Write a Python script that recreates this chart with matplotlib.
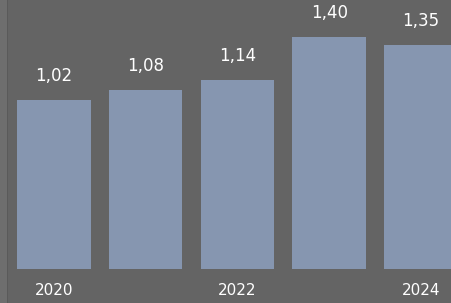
import matplotlib
matplotlib.use("Agg")
import matplotlib.pyplot as plt
from matplotlib.patches import Rectangle

# Data
years = [2020, 2021, 2022, 2023, 2024]
values = [1.02, 1.08, 1.14, 1.40, 1.35]
value_labels = ["1,02", "1,08", "1,14", "1,40", "1,35"]
tick_years = [2020, 2022, 2024]

bg = "#646464"
bar_color = "#8696b0"

fig = plt.figure(figsize=(4.51, 3.03), dpi=100, facecolor=bg)
ax = fig.add_axes([0, 0.1122, 1, 0.8878])
ax.set_facecolor(bg)

# left strip
fig.patches.append(Rectangle((0, 0), 7 / 451, 1, transform=fig.transFigure,
                             facecolor="#6e6e6e", edgecolor="none", zorder=0))
fig.patches.append(Rectangle((7 / 451, 0), 1 / 451, 1, transform=fig.transFigure,
                             facecolor="#5a5a5a", edgecolor="none", zorder=0))

x = list(range(len(years)))
bars = ax.bar(x, values, width=0.8, color=bar_color)

for xi, v, lab in zip(x, values, value_labels):
    ax.annotate(lab, (xi, v), xytext=(0, 11), textcoords="offset points",
                ha="center", va="bottom", color="white", fontsize=12)

ax.set_xlim(-0.589, 4.329)
ax.set_ylim(0, 1.623)
ax.set_xticks([years.index(y) for y in tick_years])
ax.set_xticklabels([str(y) for y in tick_years], color="white", fontsize=11)
ax.tick_params(axis="x", length=0, pad=10)
ax.set_yticks([])
for s in ax.spines.values():
    s.set_visible(False)

fig.savefig("out.png", dpi=100, facecolor=bg)
